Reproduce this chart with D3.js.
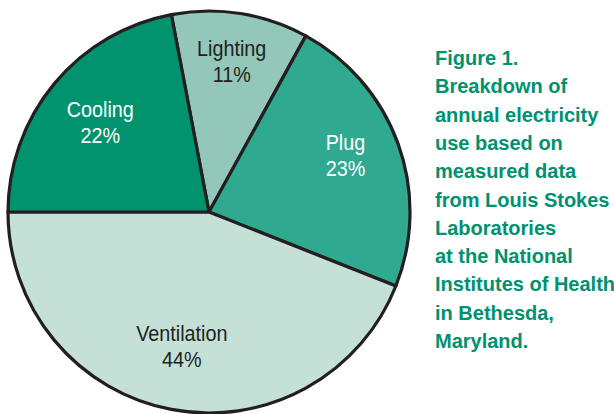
<!DOCTYPE html>
<html>
<head>
<meta charset="utf-8">
<script src="https://cdn.jsdelivr.net/npm/d3@7"></script>
<style>
  html, body { margin: 0; padding: 0; background: #fff; }
</style>
</head>
<body>
<div id="chart"></div>
<script>
var categories = ["Lighting", "Plug", "Ventilation", "Cooling"],
    shares = [11, 23, 44, 22],
    colours = ["#92c7b9", "#2fa98f", "#c4e0d7", "#00936e"],
    text_colours = ["#231f20", "#ffffff", "#231f20", "#ffffff"],
    caption = ["Figure 1.", "Breakdown of", "annual electricity", "use based on",
               "measured data", "from Louis Stokes", "Laboratories", "at the National",
               "Institutes of Health", "in Bethesda,", "Maryland."];

var svg_width = 614,
    svg_height = 414,
    cx = 209,
    cy = 212,
    radius = 201,
    label_r = 145,
    squeeze = 0.9, // fake a condensed face
    font = "'Liberation Sans', Arial, Helvetica, sans-serif";

// hand nudge, the original cooling label sits a bit lower
var label_nudge = { Cooling: [3, 10] };

var data = categories.map(function (c, i) {
    return { name: c, value: shares[i], fill: colours[i], ink: text_colours[i] };
});

// cooling ends at 9 o'clock, so start lighting just past it
var start = -Math.PI / 2 + 2 * Math.PI * shares[3] / d3.sum(shares);

var pie = d3.pie()
    .value(function (d) { return d.value; })
    .sort(null)
    .startAngle(start)
    .endAngle(start + 2 * Math.PI);

var arc = d3.arc().innerRadius(0).outerRadius(radius);
var labelArc = d3.arc().innerRadius(label_r).outerRadius(label_r);

var svg = d3.select("#chart").append("svg")
    .attr("width", svg_width)
    .attr("height", svg_height);

var g = svg.append("g").attr("transform", "translate(" + cx + "," + cy + ")");

var arcs = pie(data);

g.selectAll("path")
    .data(arcs)
    .enter().append("path")
    .attr("d", arc)
    .attr("fill", function (d) { return d.data.fill; })
    .attr("stroke", "#231f20")
    .attr("stroke-width", 3.2)
    .attr("stroke-linejoin", "round");

var labels = g.selectAll("text.lbl")
    .data(arcs)
    .enter().append("text")
    .attr("class", "lbl")
    .attr("transform", function (d) {
        var c = labelArc.centroid(d),
            n = label_nudge[d.data.name] || [0, 0];
        return "translate(" + (c[0] + n[0]) + "," + (c[1] + n[1]) + ") scale(" + squeeze + ",1)";
    })
    .attr("text-anchor", "middle")
    .attr("font-family", font)
    .attr("font-size", "22px")
    .attr("fill", function (d) { return d.data.ink; });

labels.append("tspan")
    .attr("x", 0)
    .attr("y", -13)
    .text(function (d) { return d.data.name; });

labels.append("tspan")
    .attr("x", 0)
    .attr("y", 13)
    .text(function (d) { return d.data.value + "%"; });

svg.append("text")
    .attr("font-family", font)
    .attr("font-size", "20px")
    .attr("font-weight", "bold")
    .attr("fill", "#00916e")
    .selectAll("tspan")
    .data(caption)
    .enter().append("tspan")
    .attr("x", 435)
    .attr("y", function (d, i) { return 65 + i * 28.3; })
    .text(function (d) { return d; });
</script>
</body>
</html>
